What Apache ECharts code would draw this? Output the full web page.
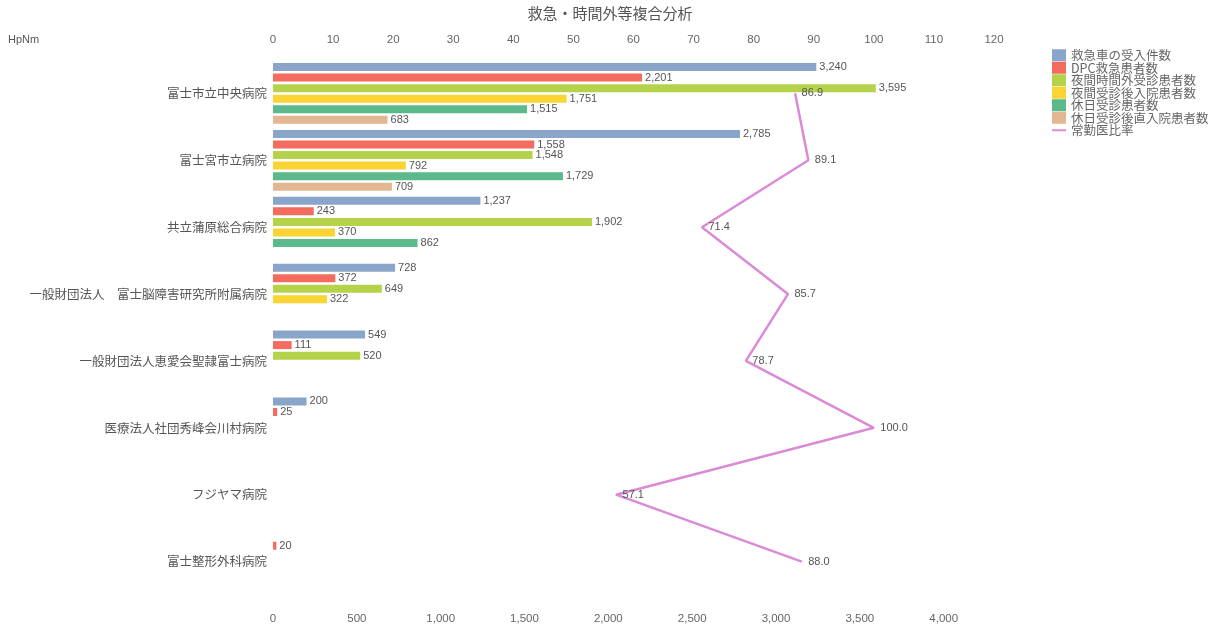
<!DOCTYPE html>
<html>
<head>
<meta charset="utf-8">
<script src="https://cdn.jsdelivr.net/npm/echarts@6/dist/echarts.min.js"></script>
<style>html,body{margin:0;padding:0;background:#fff;}#chart{width:1220px;height:630px;}</style>
</head>
<body>
<div id="chart"></div>
<script>
const categories = ['富士市立中央病院', '富士宮市立病院', '共立蒲原総合病院', '一般財団法人　富士脳障害研究所附属病院', '一般財団法人恵愛会聖隷富士病院', '医療法人社団秀峰会川村病院', 'フジヤマ病院', '富士整形外科病院'];
const ambulance = [3240, 2785, 1237, 728, 549, 200, null, null];
const dpcEmergency = [2201, 1558, 243, 372, 111, 25, null, 20];
const nightVisits = [3595, 1548, 1902, 649, 520, null, null, null];
const nightAdmissions = [1751, 792, 370, 322, null, null, null, null];
const holidayVisits = [1515, 1729, 862, null, null, null, null, null];
const holidayAdmissions = [683, 709, null, null, null, null, null, null];
const fullTimeRatio = [86.9, 89.1, 71.4, 85.7, 78.7, 100.0, 57.1, 88.0];
const barTicks = [0, 500, 1000, 1500, 2000, 2500, 3000, 3500, 4000];
const ratioTicks = [0, 10, 20, 30, 40, 50, 60, 70, 80, 90, 100, 110, 120];

const FONT = '"Noto Sans CJK JP", "Liberation Sans", sans-serif';
const barNames = ['救急車の受入件数', 'DPC救急患者数', '夜間時間外受診患者数', '夜間受診後入院患者数', '休日受診患者数', '休日受診後直入院患者数'];
const barData = [ambulance, dpcEmergency, nightVisits, nightAdmissions, holidayVisits, holidayAdmissions];
const barColors = ['#8aa5ca', '#f46b5f', '#b4d24a', '#f9d433', '#5cb98b', '#e2b792'];
const lineColor = '#db8ad7';

const chart = echarts.init(document.getElementById('chart'));
const series = barNames.map((n, i) => ({
  name: n,
  type: 'bar',
  xAxisIndex: 0,
  yAxisIndex: 0,
  data: barData[i],
  barWidth: 8,
  barGap: '32%',
  itemStyle: { color: barColors[i] },
  label: {
    show: true, position: 'right', distance: 3,
    color: '#555', fontSize: 11, fontFamily: '"Liberation Sans", sans-serif',
    formatter: p => p.value == null ? '' : Number(p.value).toLocaleString('en-US')
  }
}));
series.push({
  name: '常勤医比率',
  type: 'line',
  xAxisIndex: 1,
  yAxisIndex: 0,
  data: fullTimeRatio,
  symbol: 'circle',
  symbolSize: 1,
  z: 5,
  lineStyle: { color: lineColor, width: 2.5 },
  itemStyle: { color: lineColor },
  label: {
    show: true, position: 'right', distance: 6,
    color: '#555', fontSize: 11, fontFamily: '"Liberation Sans", sans-serif',
    formatter: p => Number(p.value).toFixed(1)
  }
});

chart.setOption({
  animation: false,
  backgroundColor: '#fff',
  title: [
    { text: '救急・時間外等複合分析', left: 'center', top: 1,
      textStyle: { fontSize: 15, fontWeight: 'normal', color: '#555', fontFamily: FONT } },
    { text: 'HpNm', left: 3, top: 29,
      textStyle: { fontSize: 11, fontWeight: 'normal', color: '#555', fontFamily: '"Liberation Sans", sans-serif' } }
  ],
  legend: {
    orient: 'vertical', left: 1046, top: 44,
    itemWidth: 14, itemHeight: 12, itemGap: 0,
    textStyle: { fontSize: 12.5, color: '#666', fontFamily: FONT, lineHeight: 12.5, padding: [0, 0, 0, 0] },
    data: barNames.map(n => ({ name: n, icon: 'rect' })).concat([{ name: '常勤医比率', itemStyle: { opacity: 0 } }])
  },
  grid: { left: 273, right: 226, top: 60, bottom: 35, containLabel: false },
  xAxis: [
    {
      type: 'value', position: 'bottom', min: 0, max: 4300, interval: 500,
      axisLine: { show: false }, axisTick: { show: false }, splitLine: { show: false },
      axisLabel: { margin: 18, color: '#666', fontSize: 11.5, fontFamily: '"Liberation Sans", sans-serif',
        showMaxLabel: false,
        formatter: v => barTicks.indexOf(v) >= 0 ? v.toLocaleString('en-US') : '' }
    },
    {
      type: 'value', position: 'top', min: 0, max: 120, interval: 10,
      axisLine: { show: false }, axisTick: { show: false }, splitLine: { show: false },
      axisLabel: { margin: 14, color: '#666', fontSize: 11.5, fontFamily: '"Liberation Sans", sans-serif',
        formatter: v => ratioTicks.indexOf(v) >= 0 ? String(v) : '' }
    }
  ],
  yAxis: [{
    type: 'category', data: categories, inverse: true,
    axisLine: { show: false }, axisTick: { show: false }, splitLine: { show: false },
    axisLabel: { margin: 6, color: '#555', fontSize: 12.5, fontFamily: FONT }
  }],
  series: series
});
</script>
</body>
</html>
